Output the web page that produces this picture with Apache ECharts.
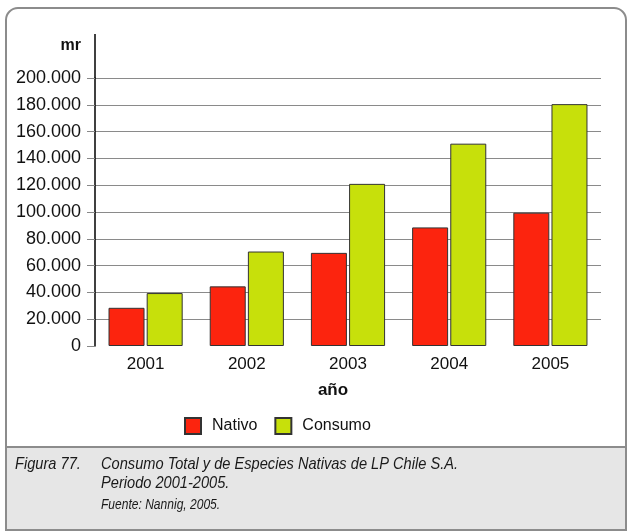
<!DOCTYPE html>
<html>
<head>
<meta charset="utf-8">
<script src="https://cdn.jsdelivr.net/npm/echarts@6/dist/echarts.min.js"></script>
<style>
  html, body { margin: 0; padding: 0; background: #fff; }
  #chart { width: 628px; height: 532px; }
</style>
</head>
<body>
<div id="chart"></div>
<script>
// values (mr)
const years = ['2001', '2002', '2003', '2004', '2005'];
const nativo = [28500, 44500, 69500, 88500, 99500];
const consumo = [39500, 70500, 121000, 151000, 180500];
const seriesNames = ['Nativo', 'Consumo'];
const yTicks = { min: 0, max: 200000, interval: 20000 };

const captionNum = 'Figura 77.';
const captionLines = [
  'Consumo Total y de Especies Nativas de LP Chile S.A.',
  'Periodo 2001-2005.'
];
const captionSource = 'Fuente: Nannig, 2005.';

const colors = { Nativo: '#fc240e', Consumo: '#c7e00b' };
const sans = '"Liberation Sans", Arial, sans-serif';

function dotThousands(v) {
  return String(v).replace(/\B(?=(\d{3})+(?!\d))/g, '.');
}

// caption text, squeezed a bit to look like the condensed italic of the original
function captionText(text, x, y, size) {
  return {
    type: 'text', silent: true, x: x, y: y, scaleX: 0.86,
    style: {
      text: text, fontSize: size, fontStyle: 'italic', fontFamily: sans,
      fill: '#1a1a1a', verticalAlign: 'middle'
    }
  };
}

const chart = echarts.init(document.getElementById('chart'));

const option = {
  animation: false,
  textStyle: { fontFamily: sans, color: '#111' },
  grid: { left: 95, right: 27, top: 78, bottom: 186 },
  legend: {
    left: 179,
    top: 412,
    itemWidth: 16,
    itemHeight: 16,
    itemGap: 17,
    icon: 'rect',
    data: seriesNames,
    textStyle: { fontSize: 16, color: '#111', padding: [0, 0, 0, 6] }
  },
  xAxis: {
    type: 'category',
    data: years,
    name: 'año',
    nameLocation: 'middle',
    nameGap: 36,
    nameTextStyle: { fontSize: 17, fontWeight: 'bold', color: '#111', padding: [0, 30, 0, 0] },
    axisLine: { show: false },
    axisTick: { show: false },
    axisLabel: { fontSize: 17, color: '#111', margin: 10 }
  },
  yAxis: {
    type: 'value',
    min: yTicks.min,
    max: yTicks.max,
    interval: yTicks.interval,
    name: 'mr',
    nameLocation: 'end',
    nameGap: 24,
    nameTextStyle: { fontSize: 16, fontWeight: 'bold', color: '#111', align: 'right', padding: [0, 14, 0, 0] },
    axisLine: { show: true, lineStyle: { color: '#000', width: 1.5 } },
    axisTick: { show: true, length: 8, lineStyle: { color: '#888' } },
    axisLabel: { fontSize: 18, color: '#111', margin: 14, formatter: dotThousands },
    splitLine: { show: true, showMinLine: false, lineStyle: { color: '#8a8a8a', width: 1 } }
  },
  series: [
    {
      name: seriesNames[0],
      type: 'bar',
      data: nativo,
      barWidth: 36,
      barGap: '6%',
      itemStyle: { color: colors.Nativo, borderColor: '#333', borderWidth: 1 }
    },
    {
      name: seriesNames[1],
      type: 'bar',
      data: consumo,
      barWidth: 36,
      itemStyle: { color: colors.Consumo, borderColor: '#333', borderWidth: 1 }
    }
  ],
  graphic: [
    // caption band
    {
      type: 'rect', z: -10, silent: true,
      shape: { x: 6, y: 447, width: 620, height: 83 },
      style: { fill: '#e6e6e6', stroke: '#8c8c8c', lineWidth: 2 }
    },
    // outer frame
    {
      type: 'rect', z: -9, silent: true,
      shape: { x: 6, y: 8, width: 620, height: 522, r: [12, 12, 0, 0] },
      style: { fill: 'none', stroke: '#8c8c8c', lineWidth: 2 }
    },
    // axis line above the last tick
    {
      type: 'line', silent: true,
      shape: { x1: 95, y1: 34, x2: 95, y2: 78 },
      style: { stroke: '#000', lineWidth: 1.5 }
    },
    captionText(captionNum, 15, 464, 17),
    captionText(captionLines[0], 101, 464, 17),
    captionText(captionLines[1], 101, 483, 17),
    captionText(captionSource, 101, 505, 14)
  ]
};

chart.setOption(option);
</script>
</body>
</html>
